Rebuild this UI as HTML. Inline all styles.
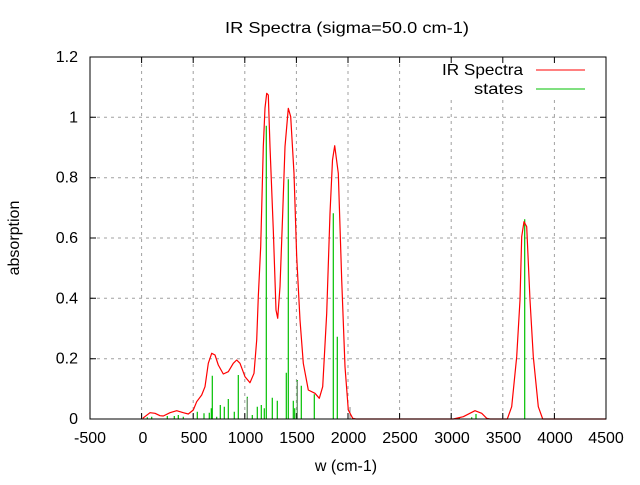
<!DOCTYPE html>
<html><head><meta charset="utf-8"><style>
body{margin:0;background:#fff}
svg text{font-family:"Liberation Sans","DejaVu Sans",sans-serif;font-size:16px;fill:#000}
</style></head><body>
<svg width="640" height="480" viewBox="0 0 640 480" xmlns="http://www.w3.org/2000/svg">
<rect width="640" height="480" fill="#fff"/>
<g stroke="#a0a0a0" stroke-width="1" stroke-dasharray="3,4">
<line x1="90" y1="358.7" x2="606" y2="358.7"/>
<line x1="90" y1="298.3" x2="606" y2="298.3"/>
<line x1="90" y1="238" x2="606" y2="238"/>
<line x1="90" y1="177.7" x2="606" y2="177.7"/>
<line x1="90" y1="117.3" x2="606" y2="117.3"/>
<line x1="141.6" y1="57" x2="141.6" y2="419"/>
<line x1="193.2" y1="57" x2="193.2" y2="419"/>
<line x1="244.8" y1="57" x2="244.8" y2="419"/>
<line x1="296.4" y1="57" x2="296.4" y2="419"/>
<line x1="348" y1="57" x2="348" y2="419"/>
<line x1="399.6" y1="57" x2="399.6" y2="419"/>
<line x1="451.2" y1="100" x2="451.2" y2="419"/>
<line x1="502.8" y1="100" x2="502.8" y2="419"/>
<line x1="554.4" y1="100" x2="554.4" y2="419"/>
</g>
<g stroke="#000" stroke-width="1">
<path d="M90,419h6M606,419h-6M90,358.7h6M606,358.7h-6M90,298.3h6M606,298.3h-6M90,238h6M606,238h-6M90,177.7h6M606,177.7h-6M90,117.3h6M606,117.3h-6M90,57h6M606,57h-6"/>
<path d="M141.6,419v-6M141.6,57v6M193.2,419v-6M193.2,57v6M244.8,419v-6M244.8,57v6M296.4,419v-6M296.4,57v6M348,419v-6M348,57v6M399.6,419v-6M399.6,57v6M451.2,419v-6M451.2,57v6M502.8,419v-6M502.8,57v6M554.4,419v-6M554.4,57v6"/>
</g>
<g stroke="#00c000" stroke-width="1.2">
<path d="M147.3,419V417.3M151.7,419V416.7M167.3,419V416M174.3,419V416M178.3,419V415M183.3,419V416.7M197.3,419V411.7M204,419V413.3M209.3,419V412.7M211.3,419V408.3M212.3,419V375.7M216.7,419V416.7M220.3,419V405M224.3,419V406.7M228.3,419V399M234.3,419V411.7M238.3,419V375M247.3,419V396.7M252.3,419V415M257.3,419V406.7M261.3,419V405M264.3,419V408.3M266.3,419V125.7M272.3,419V397.7M277.3,419V400.7M286.3,419V372.7M288.3,419V179.3M293.3,419V400.7M294.7,419V408.3M297.3,419V380M301.3,419V385.7M314.3,419V394.3M333.3,419V213.3M337.3,419V336.7M459.3,419V417.3M471.7,419V417.3M476,419V414M524.7,419V219.3"/>
</g>
<g stroke="#888" stroke-width="1">
<path d="M247.3,419V398M297.3,419V381M350,419V407"/>
</g>
<polyline fill="none" stroke="#ff0000" stroke-width="1.2" stroke-linejoin="round" points="142.7,418.3 150,412.7 155,413.3 160,415.7 163.3,416 170,412.7 176.7,410.7 183.3,412.7 188.3,414 193.3,410 196.7,401.7 201.7,395 205,386.7 208.3,363.3 211.7,353.3 215,355 218.3,365 223.3,374 228.3,371.7 233.3,363.3 236.7,360 240,363.3 245,376.7 250,382.7 254,373.3 256.7,340 258.3,296.7 260.7,246.7 263.3,146.7 265,108 266.7,93.3 268.3,95 270,146.7 273.3,230 276,310 277.7,318.3 280,286.7 282.7,213.3 285,146.7 288.3,108.3 290.7,116.7 294,173.3 296.7,256.7 300,320 303.3,363.3 308.3,390 315,393.3 319.3,398.3 322.7,386.7 326.7,313.3 330,213.3 332.5,160 334.7,145.7 338.3,173.3 341.7,280 345,366.7 348.3,410 352.7,418.3 356,419 453.3,419 463.3,416.7 475,410.7 481.7,413.3 486.7,418.3 490,419 507.3,419 511.7,406.7 516.7,356.7 520,300 521.7,236.7 524,221.7 526.7,226.7 530,300 533.3,356.7 538.3,406.7 542.7,419 606,419"/>
<rect x="90" y="57" width="516" height="362" fill="none" stroke="#000" stroke-width="1"/>
<g text-anchor="end">
<text x="78" y="424">0</text>
<text x="78" y="363.7">0.2</text>
<text x="78" y="303.3">0.4</text>
<text x="78" y="243">0.6</text>
<text x="78" y="182.7">0.8</text>
<text x="78" y="122.3">1</text>
<text x="78" y="62">1.2</text>
</g>
<text x="442" y="75" textLength="81" lengthAdjust="spacingAndGlyphs">IR Spectra</text>
<text x="474" y="94" textLength="49" lengthAdjust="spacingAndGlyphs">states</text>
<text x="225" y="33" textLength="244" lengthAdjust="spacingAndGlyphs">IR Spectra (sigma=50.0 cm-1)</text>
<g text-anchor="middle">
<text x="90" y="443">-500</text>
<text x="143" y="443">0</text>
<text x="194" y="443">500</text>
<text x="245.5" y="443">1000</text>
<text x="297" y="443">1500</text>
<text x="348.5" y="443">2000</text>
<text x="400" y="443">2500</text>
<text x="452" y="443">3000</text>
<text x="503.5" y="443">3500</text>
<text x="555" y="443">4000</text>
<text x="606" y="443">4500</text>
<text x="346" y="471">w (cm-1)</text>
<text transform="translate(19,238) rotate(-90)">absorption</text>
</g>
<line x1="536" y1="70" x2="585" y2="70" stroke="#ff0000" stroke-width="1"/>
<line x1="536" y1="89" x2="585" y2="89" stroke="#00c000" stroke-width="1"/>
</svg>
</body></html>
